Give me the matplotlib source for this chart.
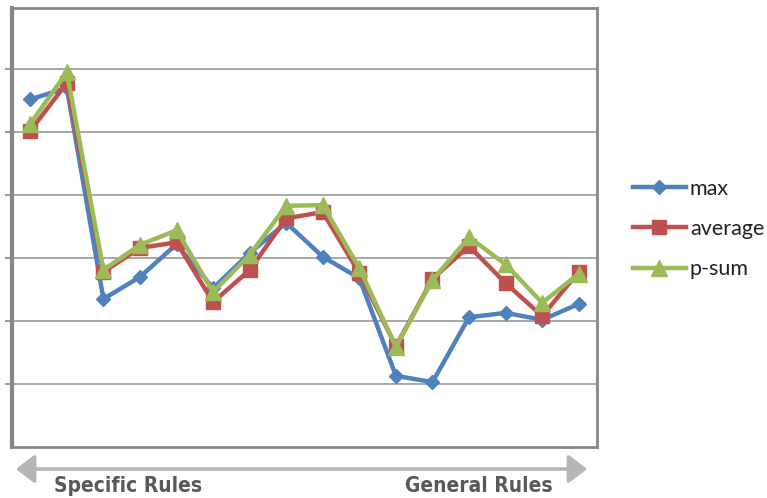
import matplotlib
matplotlib.use("Agg")
import matplotlib.pyplot as plt
from matplotlib.lines import Line2D
from matplotlib.patches import FancyArrowPatch
from matplotlib import font_manager

# Rule positions, ordered from specific to general
positions = list(range(16))
max_vals = [5.52, 5.70, 2.35, 2.70, 3.22, 2.52, 3.08, 3.56, 3.02, 2.68, 1.13, 1.03, 2.06, 2.13, 2.02, 2.27]
average_vals = [5.02, 5.78, 2.78, 3.16, 3.25, 2.30, 2.81, 3.63, 3.73, 2.76, 1.60, 2.67, 3.19, 2.60, 2.08, 2.78]
psum_vals = [5.13, 5.95, 2.81, 3.21, 3.44, 2.46, 3.05, 3.83, 3.84, 2.84, 1.59, 2.65, 3.33, 2.90, 2.29, 2.75]
series_names = ["max", "average", "p-sum"]
axis_labels = ["Specific Rules", "General Rules"]

# pick a condensed bold face for the direction labels if one is available
condensed = [f for f in font_manager.fontManager.ttflist
             if f.name == "DejaVu Sans" and "condensed" in str(f.stretch).lower()]
if condensed:
    label_font = dict(family="DejaVu Sans", stretch="condensed", size=15)
else:
    label_font = dict(family="Roboto", size=15.5)

W, H = 767, 498
fig = plt.figure(figsize=(W / 100, H / 100), dpi=100)
ax = fig.add_axes([12 / W, (H - 447) / H, 585 / W, (447 - 8) / H])

blue, red, green = "#4F81BD", "#C0504D", "#9BBB59"
ax.plot(positions, max_vals, color=blue, lw=3.2, marker="D", ms=7.5, zorder=3)
ax.plot(positions, average_vals, color=red, lw=3.2, marker="s", ms=10, zorder=4)
ax.plot(positions, psum_vals, color=green, lw=3.2, marker="^", ms=12, zorder=5)

ax.set_xlim(-0.5, 15.5)
ax.set_ylim(0, 6.97)
ax.set_yticks(range(1, 7))
ax.set_yticklabels([])
ax.set_xticks([])
ax.grid(axis="y", color="#9a9a9a", lw=1.2)
ax.set_axisbelow(True)
ax.tick_params(axis="y", length=5, width=1.2, color="#8a8a8a", direction="out")
for side, s in ax.spines.items():
    s.set_color("#868686")
    s.set_linewidth(2.0)
ax.spines["left"].set_linewidth(3.0)

handles = [
    Line2D([], [], color=blue, lw=3.2, marker="D", ms=7.5),
    Line2D([], [], color=red, lw=3.2, marker="s", ms=10),
    Line2D([], [], color=green, lw=3.2, marker="^", ms=12),
]
fig.legend(handles, series_names, loc="center left",
           bbox_to_anchor=(620 / W, 1 - 229 / H), frameon=False,
           handlelength=2.45, labelspacing=0.95, handletextpad=0.2,
           borderpad=0.3, borderaxespad=0.3,
           prop={"family": "Lato", "size": 15.5}, labelcolor="#222222")

arrow = FancyArrowPatch((13 / W, 1 - 469 / H), (590 / W, 1 - 469 / H),
                        transform=fig.transFigure,
                        arrowstyle="<|-|>,head_length=0.95,head_width=0.72",
                        mutation_scale=12, color="#b5b5b5", lw=2.6)
fig.add_artist(arrow)

fig.text(128 / W, 1 - 486 / H, axis_labels[0], ha="center", va="center",
         weight="bold", color="#595959", **label_font)
fig.text(479 / W, 1 - 486 / H, axis_labels[1], ha="center", va="center",
         weight="bold", color="#595959", **label_font)

fig.savefig("out.png", dpi=100)
